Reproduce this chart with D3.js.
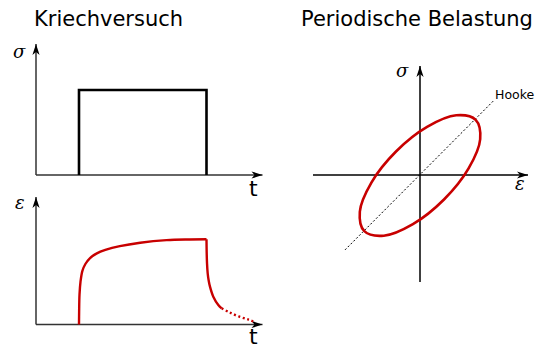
<!DOCTYPE html>
<html>
<head>
<meta charset="utf-8">
<script src="https://cdn.jsdelivr.net/npm/d3@7/dist/d3.min.js"></script>
<style>
  html, body { margin: 0; padding: 0; background: #fff; }
  svg { display: block; }
  .title { font-family: "DejaVu Sans", sans-serif; font-size: 21px; fill: #000; }
  .sym { font-family: "DejaVu Serif", serif; font-style: italic; font-size: 18px; fill: #000; }
  .tlab { font-family: "DejaVu Sans", sans-serif; font-size: 22px; fill: #000; }
  .hooke { font-family: "DejaVu Sans", sans-serif; font-size: 12.5px; fill: #000; }
</style>
</head>
<body>
<script>
// Creep test: applied stress step (time, stress)
const loadTime   = [1, 1, 4, 4];
const loadStress = [0, 1, 1, 0];

// Creep test: strain response while loaded
const creepTime   = [1, 1.003, 1.012, 1.035, 1.08, 1.15, 1.26, 1.42, 1.62, 1.96, 2.44, 3.06, 3.6, 4.0];
const creepStrain = [0, 0.15, 0.35, 0.5, 0.63, 0.71, 0.78, 0.835, 0.875, 0.92, 0.96, 0.99, 0.998, 1.0];

// Recovery after unloading (solid part, then dotted continuation)
const recoveryTime   = [4.0, 4.004, 4.012, 4.028, 4.05, 4.082, 4.16, 4.278, 4.358];
const recoveryStrain = [1.0, 0.85, 0.72, 0.6, 0.52, 0.444, 0.326, 0.229, 0.19];
const tailTime   = [4.358, 4.53, 4.76, 5.0, 5.14];
const tailStrain = [0.19, 0.145, 0.094, 0.055, 0.027];

// Cyclic loading: hysteresis loop (strain, stress)
const loopStrain = [0.928, 0.604, 0.118, -0.400, -0.810, -1.003, -0.928, -0.604, -0.118, 0.400, 0.810, 1.003];
const loopStress = [0.928, 1.003, 0.810, 0.400, -0.118, -0.604, -0.928, -1.003, -0.810, -0.400, 0.118, 0.604];

// Hooke's law line
const hookeStrain = [-1.25, 1.24];
const hookeStress = [-1.24, 1.26];

const W = 535, H = 349;
const svg = d3.select("body").append("svg").attr("width", W).attr("height", H);

// arrowhead marker
const defs = svg.append("defs");
defs.append("marker")
  .attr("id", "arrow")
  .attr("viewBox", "-12 -5 14 10")
  .attr("refX", 0).attr("refY", 0)
  .attr("markerWidth", 14).attr("markerHeight", 10)
  .attr("markerUnits", "userSpaceOnUse")
  .attr("orient", "auto")
  .append("path")
  .attr("d", "M0,0 L-11,-3.6 L-8,0 L-11,3.6 Z")
  .attr("fill", "#000");

function axisLine(x1, y1, x2, y2, color) {
  svg.append("line")
    .attr("x1", x1).attr("y1", y1).attr("x2", x2).attr("y2", y2)
    .attr("stroke", color).attr("stroke-width", 1.5)
    .attr("marker-end", "url(#arrow)");
}

// ---- Kriechversuch ----
const tScale = d3.scaleLinear().domain([0, 6]).range([36.5, 291.5]);
const sigmaScale = d3.scaleLinear().domain([0, 1]).range([175, 90]);
const epsScale = d3.scaleLinear().domain([0, 1]).range([324.5, 239.3]);

svg.append("text").attr("class", "title").attr("x", 34).attr("y", 26).text("Kriechversuch");

axisLine(36, 175, 262.5, 175, "#333");
axisLine(36, 175, 36, 44, "#333");
svg.append("text").attr("class", "sym").attr("x", 13).attr("y", 58).text("σ");
svg.append("text").attr("class", "tlab").attr("x", 249).attr("y", 196).text("t");

const stressLine = d3.line()
  .x((d, i) => tScale(loadTime[i]))
  .y((d, i) => sigmaScale(loadStress[i]));
svg.append("path")
  .attr("d", stressLine(loadTime))
  .attr("fill", "none").attr("stroke", "#000").attr("stroke-width", 2.6)
  .attr("stroke-linejoin", "miter");

axisLine(36, 324.5, 262.5, 324.5, "#333");
axisLine(36, 324.5, 36, 197, "#333");
svg.append("text").attr("class", "sym").attr("x", 15).attr("y", 209).text("ε");
svg.append("text").attr("class", "tlab").attr("x", 249).attr("y", 344).text("t");

function strainPath(ts, es) {
  return d3.line()
    .x((d, i) => tScale(ts[i]))
    .y((d, i) => epsScale(es[i]))
    .curve(d3.curveCatmullRom.alpha(0.5))(ts);
}
const red = "#c80000";
svg.append("path").attr("d", strainPath(creepTime, creepStrain))
  .attr("fill", "none").attr("stroke", red).attr("stroke-width", 2.4);
svg.append("path").attr("d", strainPath(recoveryTime, recoveryStrain))
  .attr("fill", "none").attr("stroke", red).attr("stroke-width", 2.4);
svg.append("path").attr("d", strainPath(tailTime, tailStrain))
  .attr("fill", "none").attr("stroke", red).attr("stroke-width", 2.4)
  .attr("stroke-dasharray", "2,2.6");

// ---- Periodische Belastung ----
svg.append("text").attr("class", "title").attr("x", 301).attr("y", 26).text("Periodische Belastung");

const exScale = d3.scaleLinear().domain([-1, 1]).range([360, 480]);
const syScale = d3.scaleLinear().domain([-1, 1]).range([235.5, 115.5]);

axisLine(313, 175, 528, 175, "#000");
axisLine(420, 282, 420, 66, "#000");
svg.append("text").attr("class", "sym").attr("x", 396).attr("y", 77).text("σ");
svg.append("text").attr("class", "sym").attr("x", 515).attr("y", 190).text("ε");

svg.append("path")
  .attr("d", d3.line()
    .x((d, i) => exScale(hookeStrain[i]))
    .y((d, i) => syScale(hookeStress[i]))(hookeStrain))
  .attr("fill", "none").attr("stroke", "#000").attr("stroke-width", 1)
  .attr("stroke-dasharray", "2,2");
svg.append("text").attr("class", "hooke").attr("x", 495).attr("y", 99).text("Hooke");

svg.append("path")
  .attr("d", d3.line()
    .x((d, i) => exScale(loopStrain[i]))
    .y((d, i) => syScale(loopStress[i]))
    .curve(d3.curveCatmullRomClosed.alpha(0.5))(loopStrain))
  .attr("fill", "none").attr("stroke", red).attr("stroke-width", 2.6);
</script>
</body>
</html>
